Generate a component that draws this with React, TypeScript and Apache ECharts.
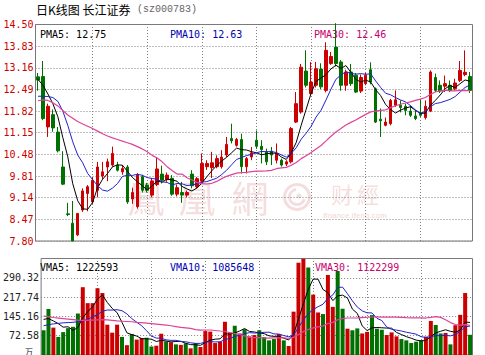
import React, { useEffect, useRef } from 'react';
import * as echarts from 'echarts';

// ---- daily candles (price, yuan) ----
const opens = [12.88, 12.89, 11.33, 11.71, 11.17, 10.09, 8.64, 8.35, 7.99, 8.76,
  9.27, 9.01, 9.37, 9.81, 10.09, 10.15, 10.15, 9.94, 10.09, 9.10,
  8.86, 9.79, 9.53, 9.22, 9.55, 9.87, 9.70, 9.74, 9.25, 9.30,
  9.22, 9.87, 9.48, 9.65, 10.10, 10.07, 10.10, 10.10, 10.46, 10.97,
  10.76, 10.94, 10.10, 10.40, 10.92, 10.73, 10.56, 10.58, 10.30, 10.30,
  10.18, 10.25, 11.48, 11.79, 13.06, 12.36, 12.62, 13.12, 12.46, 13.29,
  13.80, 13.34, 12.62, 13.03, 12.93, 12.44, 12.67, 13.10, 12.51, 11.57,
  11.38, 11.43, 12.00, 12.00, 11.97, 11.82, 11.67, 11.76, 11.62, 11.82,
  12.86, 12.62, 12.59, 12.62, 12.51, 12.77, 12.95, 12.89];
const closes = [12.78, 11.59, 11.97, 11.30, 10.59, 9.56, 8.62, 7.80, 8.65, 9.35,
  9.48, 9.68, 10.09, 9.94, 10.25, 10.51, 9.99, 10.04, 9.01, 9.30,
  9.84, 9.37, 9.37, 9.66, 10.03, 9.68, 9.84, 9.25, 9.45, 9.22,
  9.30, 9.51, 9.73, 10.20, 10.20, 10.22, 10.35, 10.40, 10.79, 10.90,
  10.94, 10.10, 10.35, 10.53, 10.73, 10.63, 10.25, 10.46, 10.51, 10.15,
  10.25, 11.28, 12.05, 13.18, 12.62, 12.72, 13.13, 12.57, 13.70, 13.51,
  13.29, 12.62, 13.03, 12.67, 12.41, 12.86, 12.93, 12.72, 11.48, 11.52,
  11.48, 12.15, 12.17, 11.93, 11.84, 11.69, 11.59, 11.69, 11.97, 13.03,
  12.46, 12.44, 12.67, 12.46, 12.69, 13.08, 13.02, 12.46];
const lows = [12.45, 11.54, 11.02, 11.18, 10.54, 9.53, 8.57, 7.80, 7.95, 8.70,
  8.72, 8.95, 9.15, 9.70, 9.65, 10.10, 9.95, 9.85, 8.95, 8.95,
  8.80, 9.30, 9.30, 9.15, 9.50, 9.58, 9.63, 9.20, 9.18, 8.98,
  9.15, 9.43, 9.43, 9.60, 10.00, 9.75, 10.05, 10.04, 10.40, 10.82,
  10.72, 9.89, 9.89, 10.30, 10.65, 10.20, 10.15, 10.15, 10.20, 10.10,
  10.12, 10.20, 11.45, 11.74, 12.55, 12.33, 12.55, 12.50, 12.40, 13.25,
  13.20, 12.45, 12.45, 12.60, 12.38, 12.38, 12.62, 12.65, 11.45, 11.02,
  11.35, 11.38, 11.95, 11.78, 11.69, 11.64, 11.54, 11.64, 11.56, 11.79,
  12.41, 12.38, 12.41, 12.41, 12.46, 12.72, 12.90, 12.38];
const highs = [13.00, 13.37, 12.05, 11.87, 11.33, 10.58, 8.98, 9.04, 8.67, 9.43,
  9.53, 9.78, 10.25, 10.25, 10.35, 10.72, 10.25, 10.15, 10.15, 9.45,
  9.90, 9.85, 9.60, 9.75, 10.40, 10.13, 9.92, 9.84, 9.55, 9.63,
  9.36, 9.99, 9.78, 10.51, 10.30, 10.56, 10.45, 10.61, 11.02, 11.43,
  10.99, 11.12, 10.40, 10.71, 11.22, 10.92, 10.66, 10.71, 10.82, 10.35,
  10.30, 11.33, 12.41, 13.28, 13.70, 13.34, 13.34, 13.30, 13.95, 13.65,
  14.54, 13.40, 13.10, 13.28, 13.00, 12.95, 13.00, 13.33, 12.55, 11.90,
  11.62, 12.20, 12.46, 12.15, 12.05, 12.00, 11.85, 12.18, 12.15, 13.08,
  12.98, 12.77, 12.92, 12.77, 12.82, 13.37, 13.70, 13.03];

// ---- daily volume (万手) ----
const volumes = [93, 173, 103, 68, 86, 101, 106, 156, 255, 195,
  195, 251, 233, 114, 84, 114, 68, 37, 79, 58,
  64, 65, 32, 35, 80, 51, 48, 40, 38, 44,
  25, 45, 30, 90, 88, 45, 50, 125, 85, 110,
  81, 97, 70, 75, 93, 67, 55, 60, 79, 55,
  34, 163, 347, 362, 329, 227, 160, 154, 301, 181,
  316, 174, 99, 93, 100, 81, 87, 150, 99, 95,
  75, 85, 70, 60, 55, 45, 50, 55, 69, 128,
  113, 81, 83, 40, 112, 151, 233, 76];

// moving-average values at the start of the window (earlier days are not shown)
const ma5Lead = [12.80, 12.62, 12.35, 12.05];
const ma10Lead = [12.28, 12.28, 12.27, 12.24, 12.12, 11.82, 11.38, 10.87, 10.46];
const ma30Lead = [12.14, 12.17, 12.15, 12.08, 11.98, 11.84, 11.70, 11.60, 11.50, 11.42,
  11.35, 11.28, 11.20, 11.12, 11.05, 10.99, 10.94, 10.89, 10.84, 10.79,
  10.72, 10.65, 10.56, 10.45, 10.37, 10.25, 10.10, 9.98, 9.87];
const vma5Lead = [134, 137, 128, 118];
const vma10Lead = [110, 114, 117, 119, 121, 122, 123, 125, 129];
const vma30Lead = [146, 144, 141, 139, 137, 135, 133, 131, 130, 130,
  131, 132, 133, 132, 130, 128, 127, 126, 125, 123,
  122, 120, 118, 116, 114, 112, 110, 107, 104];

// axis ticks
const priceMin = 7.8;
const priceMax = 14.5;
const priceStep = 0.67;
const volMax = 362.9;
const volStep = 72.58;

// vertical grid every 11 trading days
const vLineDays = [11, 22, 33, 44, 55, 66, 77];

const titleMain = '日K线图 长江证券';
const titleCode = '(sz000783)';
const volUnit = '万';
const priceLegend = [
  { text: 'PMA5: 12.75', x: 40, color: '#000000' },
  { text: 'PMA10: 12.63', x: 170, color: '#0000b4' },
  { text: 'PMA30: 12.46', x: 314, color: '#c8006e' },
];
const volLegend = [
  { text: 'VMA5: 1222593', x: 40, color: '#000000' },
  { text: 'VMA10: 1085648', x: 170, color: '#0000b4' },
  { text: 'VMA30: 1122299', x: 315, color: '#c8006e' },
];

const RED = '#cc0000';
const GREEN = '#007000';
const MONO = '"DejaVu Sans Mono", monospace';

function movingAverage(vals: number[], n: number, lead: number[]): number[] {
  return vals.map((_, i) => {
    if (i < lead.length) return lead[i];
    let s = 0;
    for (let k = i - n + 1; k <= i; k++) s += vals[k];
    return +(s / n).toFixed(3);
  });
}

export default function App() {
  const ref = useRef<HTMLDivElement>(null);

  useEffect(() => {
    if (!ref.current) return;
    const chart = echarts.init(ref.current, undefined, { renderer: 'svg' });

    const days = opens.map((_, i) => String(i + 1));
    const ohlc = opens.map((o, i) => [o, closes[i], lows[i], highs[i]]);
    const volData = volumes.map((v, i) => ({
      value: v,
      itemStyle: { color: closes[i] >= opens[i] ? RED : GREEN },
    }));
    const ma5 = movingAverage(closes, 5, ma5Lead);
    const ma10 = movingAverage(closes, 10, ma10Lead);
    const ma30 = movingAverage(closes, 30, ma30Lead);
    const vma5 = movingAverage(volumes, 5, vma5Lead);
    const vma10 = movingAverage(volumes, 10, vma10Lead);
    const vma30 = movingAverage(volumes, 30, vma30Lead);

    const gridLine = { type: [1, 2] as any, color: '#808080', width: 1 };
    const vMark = {
      silent: true,
      symbol: ['none', 'none'],
      label: { show: false },
      lineStyle: gridLine,
      z: 1,
      animation: false,
      data: vLineDays.map((d) => ({ xAxis: d })),
    };
    const catAxis = (gridIndex: number) => ({
      type: 'category',
      gridIndex,
      data: days,
      boundaryGap: true,
      axisLine: { show: false },
      axisTick: { show: false },
      axisLabel: { show: false },
      splitLine: { show: false },
    });
    const lineSeries = (data: number[], color: string, xi: number, width = 1) => ({
      type: 'line',
      data,
      xAxisIndex: xi,
      yAxisIndex: xi,
      symbol: 'none',
      smooth: false,
      lineStyle: { color, width },
      z: 3,
      silent: true,
    });

    const textEl = (text: string, x: number, y: number, color: string, fontSize: number, fontFamily: string, align = 'left') => ({
      type: 'text',
      x,
      y,
      silent: true,
      style: { text, fill: color, fontSize, fontFamily, align, verticalAlign: 'middle' },
    });
    const wm = 'rgba(222,150,150,0.32)';
    const wmChar = (ch: string, cx: number, cy: number, size: number) => ({
      type: 'text',
      x: cx,
      y: cy,
      silent: true,
      z: -1,
      style: { text: ch, fill: wm, fontSize: size, lineHeight: size, fontFamily: '"Noto Sans CJK TC"', align: 'center', verticalAlign: 'middle' },
    });

    const option: any = {
      animation: false,
      backgroundColor: '#ffffff',
      grid: [
        { left: 35.5, top: 24.5, width: 437, height: 216.5, show: true, borderColor: '#777777', borderWidth: 1, backgroundColor: 'transparent' },
        { left: 35.5, top: 258.5, width: 437, height: 103, show: true, borderColor: '#777777', borderWidth: 1, backgroundColor: 'transparent' },
      ],
      xAxis: [catAxis(0), catAxis(1)],
      yAxis: [
        {
          type: 'value', gridIndex: 0, min: priceMin, max: priceMax, interval: priceStep,
          axisLine: { show: false }, axisTick: { show: false },
          axisLabel: { color: RED, fontFamily: MONO, fontSize: 10, margin: 2, formatter: (v: number) => v.toFixed(2) },
          splitLine: { show: true, lineStyle: gridLine },
        },
        {
          type: 'value', gridIndex: 1, min: 0, max: volMax, interval: volStep,
          axisLine: { show: false }, axisTick: { show: false },
          axisLabel: {
            color: '#222222', fontFamily: MONO, fontSize: 10, margin: 2,
            formatter: (v: number) => (v > 1 && v < volMax - 1 ? v.toFixed(2) : ''),
          },
          splitLine: { show: true, lineStyle: gridLine },
        },
      ],
      graphic: [
        wmChar('鳳', 146, 197, 37),
        wmChar('凰', 197, 197, 37),
        wmChar('網', 250, 197, 37),
        { type: 'ring', silent: true, z: -1, shape: { cx: 297, cy: 197, r: 14, r0: 11 }, style: { fill: wm } },
        { type: 'arc', silent: true, z: -1, shape: { cx: 297, cy: 197, r: 7.5, startAngle: 0.3, endAngle: 4.6 }, style: { stroke: wm, lineWidth: 3, fill: 'none' } },
        { type: 'circle', silent: true, z: -1, shape: { cx: 299, cy: 196, r: 2.5 }, style: { fill: wm } },
        wmChar('财', 342, 192.5, 22),
        wmChar('經', 368, 192.5, 22),
        {
          type: 'text', x: 355, y: 215, silent: true, z: -1,
          style: { text: 'finance.ifeng.com', fill: wm, fontSize: 7.5, lineHeight: 8, fontWeight: 'bold', fontFamily: 'Arial, "Liberation Sans"', align: 'center', verticalAlign: 'middle' },
        },
        textEl(titleMain, 36, 9.5, '#000000', 12, '"Noto Sans CJK SC"'),
        textEl(titleCode, 137, 9.5, '#666666', 10, '"Liberation Mono", monospace'),
        ...priceLegend.map((l) => textEl(l.text, l.x, 34, l.color, 10, MONO)),
        ...volLegend.map((l) => textEl(l.text, l.x, 267.5, l.color, 10, MONO)),
        {
          type: 'text', x: 33, y: 347, silent: true,
          style: { text: volUnit, fill: '#222222', fontSize: 8, lineHeight: 8, fontFamily: '"Noto Sans CJK SC"', align: 'right', verticalAlign: 'top' },
        },
      ],
      series: [
        {
          type: 'candlestick',
          xAxisIndex: 0,
          yAxisIndex: 0,
          data: ohlc,
          barWidth: 3,
          clip: false,
          silent: true,
          itemStyle: { color: RED, color0: GREEN, borderColor: RED, borderColor0: GREEN, borderWidth: 1 },
          markLine: vMark,
          z: 2,
        },
        lineSeries(ma5, '#000000', 0),
        lineSeries(ma10, '#2222cc', 0),
        lineSeries(ma30, '#dd4499', 0, 1.2),
        {
          type: 'bar',
          xAxisIndex: 1,
          yAxisIndex: 1,
          data: volData,
          barWidth: 4,
          silent: true,
          markLine: vMark,
          z: 2,
        },
        lineSeries(vma5, '#000000', 1),
        lineSeries(vma10, '#2222cc', 1),
        lineSeries(vma30, '#dd4499', 1, 1.2),
      ],
    };

    chart.setOption(option);
    return () => chart.dispose();
  }, []);

  return <div ref={ref} style={{ position: 'absolute', left: 0, top: 0, width: 485, height: 355 }} />;
}
